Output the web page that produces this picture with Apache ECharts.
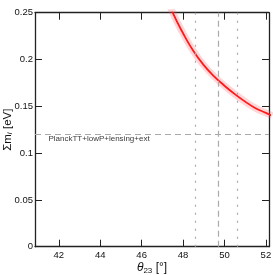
<!DOCTYPE html>
<html><head><meta charset="utf-8">
<script src="https://cdn.jsdelivr.net/npm/echarts@6/dist/echarts.min.js"></script>
<style>html,body{margin:0;padding:0;background:#fff}#c{width:273px;height:275px}</style>
</head><body><div id="c"></div>
<script>
// data
const curveTheta = [47.3, 47.5, 48.0, 48.5, 49.0, 49.5, 50.0, 50.5, 51.0, 51.5, 52.0, 52.3];
const curveSum   = [0.262, 0.250, 0.228, 0.209, 0.194, 0.182, 0.172, 0.163, 0.155, 0.148, 0.143, 0.140];
const xTicks = [42, 44, 46, 48, 50, 52];
const yTicks = [0, 0.05, 0.1, 0.15, 0.2, 0.25];
const planckLimit = 0.12;
const thetaBest = 49.7;
const thetaRange = [48.6, 50.6];
const limitLabel = 'PlanckTT+lowP+lensing+ext';
const labelPos = [41.5, 0.1152];
const xMin = 40.85, xMax = 52.15;

const font = 'Liberation Sans, Arial, sans-serif';
const axisCol = '#222';
const chart = echarts.init(document.getElementById('c'), null, {renderer: 'canvas'});
const pts = curveTheta.map((t, i) => [t, curveSum[i]]);
const mkX = (pos, show) => ({
  type: 'value', position: pos, min: xMin, max: xMax,
  splitLine: {show: false},
  axisLine: {show: true, onZero: false, lineStyle: {color: axisCol, width: 1.3}},
  axisTick: {show: true, inside: true, length: 7, customValues: xTicks, lineStyle: {color: axisCol, width: 1}},
  axisLabel: {show: show, customValues: xTicks, margin: 4, color: '#111', fontSize: 9.5, fontFamily: font},
});
const mkY = (pos, show) => ({
  type: 'value', position: pos, min: 0, max: 0.25,
  splitLine: {show: false},
  axisLine: {show: true, onZero: false, lineStyle: {color: axisCol, width: 1.3}},
  axisTick: {show: true, inside: true, length: 7, customValues: yTicks, lineStyle: {color: axisCol, width: 1}},
  axisLabel: {show: show, customValues: yTicks, margin: 2, color: '#111', fontSize: 9.5, fontFamily: font,
    formatter: v => String(+v.toFixed(2))},
});
const xa0 = mkX('bottom', true);
xa0.name = '{t|θ}{s|23} {n|[°]}';
xa0.nameLocation = 'middle';
xa0.nameGap = 14;
xa0.nameMoveOverlap = false;
xa0.nameTextStyle = {rich: {
  t: {fontStyle: 'italic', fontSize: 12, fontFamily: font, color: '#111'},
  s: {fontSize: 8, fontFamily: font, color: '#111', verticalAlign: 'bottom', padding: [6, 0, 0, 0]},
  n: {fontSize: 12, fontFamily: font, color: '#111'}}};
const ya0 = mkY('left', true);
ya0.name = '{n|Σm}{s|i} {n|[eV]}';
ya0.nameLocation = 'middle';
ya0.nameRotate = 90;
ya0.nameGap = 21;
ya0.nameMoveOverlap = false;
ya0.nameTextStyle = {rich: {
  n: {fontSize: 11.5, fontFamily: font, color: '#111'},
  s: {fontSize: 8, fontStyle: 'italic', fontFamily: font, color: '#111', verticalAlign: 'bottom', padding: [5, 0, 0, 0]}}};

chart.setOption({
  animation: false,
  grid: {left: 35, right: 4, top: 12.7, bottom: 28.3, containLabel: false, outerBoundsMode: 'none'},
  xAxis: [xa0, mkX('top', false)],
  yAxis: [ya0, mkY('right', false)],
  series: [
    {type: 'line', data: pts, smooth: true, showSymbol: false, clip: true, z: 3,
      lineStyle: {color: 'rgba(255,90,100,0.25)', width: 7}},
    {type: 'line', data: pts, smooth: true, showSymbol: false, clip: true, z: 4,
      lineStyle: {color: '#ff1a1a', width: 1.8},
      markLine: {silent: true, symbol: 'none', label: {show: false},
        data: [
          {yAxis: planckLimit, lineStyle: {color: '#aaa', type: [6, 4], width: 1.2}},
          {xAxis: thetaBest, lineStyle: {color: '#aaa', type: [6, 4], width: 1.2}},
          {xAxis: thetaRange[0], lineStyle: {color: '#aaa', type: [2, 6], width: 1.2}},
          {xAxis: thetaRange[1], lineStyle: {color: '#aaa', type: [2, 6], width: 1.2}},
        ]}},
    {type: 'scatter', data: [labelPos], symbol: 'circle', symbolSize: 0,
      itemStyle: {color: 'rgba(0,0,0,0)'}, z: 5,
      label: {show: true, position: [0, 0], align: 'left', verticalAlign: 'middle', formatter: limitLabel,
        fontSize: 8, fontFamily: font, color: '#000'}},
  ]
});
</script></body></html>
